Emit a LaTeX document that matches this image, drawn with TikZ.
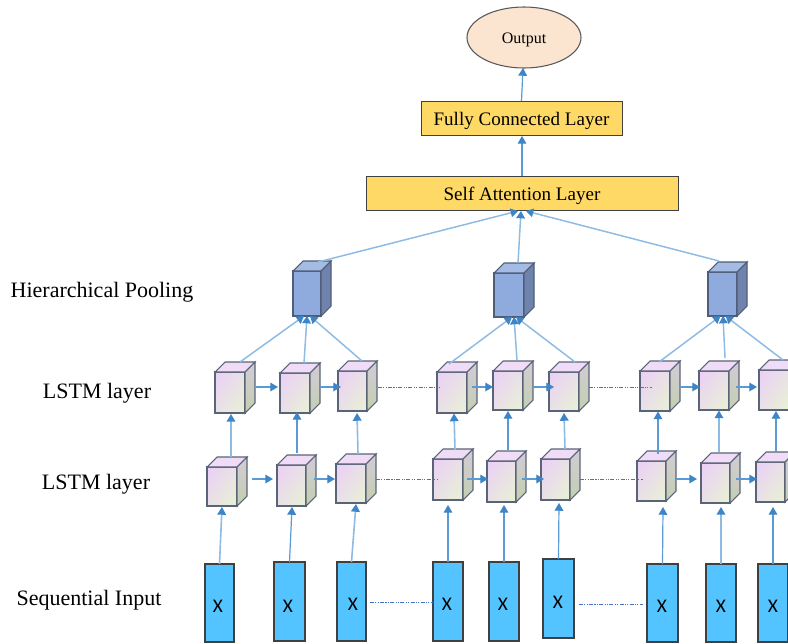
\documentclass[tikz,border=0pt]{standalone}
\usepackage{fontspec}
\setmainfont{Liberation Serif}
\newfontfamily\xfont{Carlito}
\usetikzlibrary{arrows.meta,calc,shapes.geometric,shadings}
\definecolor{lineblue}{HTML}{5B9BD5}
\definecolor{paleblue}{HTML}{8DBBE3}
\definecolor{headblue}{HTML}{3D85C6}
\definecolor{dotblue}{HTML}{4472C4}
\definecolor{edgeslate}{HTML}{5A6478}
\definecolor{poolfront}{HTML}{8FAADC}
\definecolor{pooltop}{HTML}{A6BBE3}
\definecolor{poolside}{HTML}{7083AD}
\definecolor{poolline}{HTML}{4E5D78}
\definecolor{cubeA}{HTML}{EBCFF7}
\definecolor{cubeB}{HTML}{E8F2D3}
\definecolor{cubeM}{HTML}{E9E1E6}
\definecolor{cubetop}{HTML}{F0DCF6}
\definecolor{sideA}{HTML}{D2CCD6}
\definecolor{sideB}{HTML}{C4CEB0}
\definecolor{gold}{HTML}{FFD966}
\definecolor{peach}{HTML}{FBE5D0}
\definecolor{inputblue}{HTML}{53C4FF}
\tikzset{
  arr/.style={draw=lineblue,line width=0.9pt,-{Triangle[length=5.8pt,width=6.5pt,color=headblue]}},
  feed/.style={draw=paleblue,line width=1.2pt,-{Triangle[length=5.8pt,width=6.5pt,color=headblue]}},
  gather/.style={draw=paleblue,line width=1.1pt,-{Triangle[length=5.5pt,width=6.5pt,color=headblue]}},
  dots/.style={draw=dotblue,line width=0.5pt,dash pattern=on 3pt off 1pt on 0.8pt off 1pt on 0.8pt off 1pt},
  frontface/.style={inner sep=0pt,outer sep=0pt,anchor=north west},
  lstmfront/.style={frontface,draw=edgeslate,line width=0.9pt,upper left=cubeA,lower right=cubeB,upper right=cubeM,lower left=cubeM},
  poolfrontface/.style={frontface,draw=poolline,line width=0.9pt,fill=poolfront},
  layerbox/.style={draw=black!75,line width=0.7pt,fill=gold,font=\fontsize{14.3pt}{16pt}\selectfont,inner sep=0pt,outer sep=0pt,anchor=north west,text height=0pt,text depth=0pt},
  inputbox/.style={draw=black!75,line width=0.8pt,fill=inputblue,inner sep=0pt,outer sep=0pt,anchor=north west},
  xlabel/.style={font=\xfont\fontsize{14.5pt}{16pt}\selectfont,inner sep=0pt},
  sidelabel/.style={font=\fontsize{16.5pt}{19pt}\selectfont,inner sep=0pt}
}
% name, left, top, right, bottom
\newcommand{\lstmcube}[5]{%
  \node[lstmfront,minimum width={(#4-#2)*0.75pt},minimum height={(#5-#3)*0.75pt}] (#1) at (#2,#3) {};
  \draw[edgeslate,line width=0.8pt,fill=cubetop] (#1.north west) -- ++(10,-10) -- ++({#4-#2},0) -- (#1.north east) -- cycle;
  \draw[edgeslate,line width=0.8pt,top color=sideA,bottom color=sideB] (#1.north east) -- ++(10,-10) -- ++(0,{#5-#3}) -- (#1.south east) -- cycle;
}
\newcommand{\poolcube}[5]{%
  \node[poolfrontface,minimum width={(#4-#2)*0.75pt},minimum height={(#5-#3)*0.75pt}] (#1) at (#2,#3) {};
  \draw[poolline,line width=0.8pt,fill=pooltop] (#1.north west) -- ++(10,-10) -- ++({#4-#2},0) -- (#1.north east) -- cycle;
  \draw[poolline,line width=0.8pt,fill=poolside] (#1.north east) -- ++(10,-10) -- ++(0,{#5-#3}) -- (#1.south east) -- cycle;
}
% name, left, top, right, bottom, X centre x, X centre y
\newcommand{\inputrect}[7]{%
  \node[inputbox,minimum width={(#4-#2)*0.75pt},minimum height={(#5-#3)*0.75pt}] (#1) at (#2,#3) {};
  \node[xlabel] (#1x) at (#6,#7) {X};
}
\begin{document}
\begin{tikzpicture}[x=0.75pt,y=-0.75pt]
\useasboundingbox (0,0) rectangle (788,643);
\clip (0,0) rectangle (788,643);
\fill[white] (0,0) rectangle (788,643);

% top
\node[ellipse,draw=black!65,line width=0.8pt,fill=peach,minimum width=114*0.75pt,minimum height=61*0.75pt,inner sep=0pt,outer sep=0pt,text height=0pt,text depth=0pt,font=\fontsize{12pt}{14pt}\selectfont] (out) at (524,37.5) {\raisebox{-4.4pt}{Output}};
\node[layerbox,minimum width=201*0.75pt,minimum height=34*0.75pt] (fc) at (421,101) {\raisebox{-5.25pt}{Fully Connected Layer}};
\node[layerbox,minimum width=312*0.75pt,minimum height=34*0.75pt] (sa) at (366,176) {\raisebox{-5.25pt}{Self Attention Layer}};

% side labels
\node[sidelabel] (t1) at (102,292) {Hierarchical Pooling};
\node[sidelabel] (t2) at (97,393) {LSTM layer};
\node[sidelabel] (t3) at (96,484) {LSTM layer};
\node[sidelabel] (t4) at (89,600) {Sequential Input};

% pooling
\poolcube{p1}{293}{271}{321}{316}
\poolcube{p2}{494}{273}{524}{317}
\poolcube{p3}{708}{272}{737}{316}

% upper LSTM
\lstmcube{u1}{215}{372}{245}{413}
\lstmcube{u2}{280}{373}{310}{413}
\lstmcube{u3}{338}{371}{367}{411}
\lstmcube{u4}{437}{372}{467}{413}
\lstmcube{u5}{493}{371}{523}{410}
\lstmcube{u6}{549}{372}{579}{411}
\lstmcube{u7}{640}{371}{670}{411}
\lstmcube{u8}{699}{371}{729}{410}
\lstmcube{u9}{759}{370}{789}{410}

% lower LSTM
\lstmcube{l1}{207}{467}{237}{506}
\lstmcube{l2}{277}{465}{306}{506}
\lstmcube{l3}{336}{464}{366}{503}
\lstmcube{l4}{433}{459}{463}{500}
\lstmcube{l5}{487}{461}{516}{502}
\lstmcube{l6}{541}{459}{570}{500}
\lstmcube{l7}{637}{461}{666}{501}
\lstmcube{l8}{701}{463}{730}{503}
\lstmcube{l9}{756}{462}{785}{502}

% inputs
\inputrect{r1}{205}{564}{234}{642}{218}{606}
\inputrect{r2}{274}{562}{305}{641}{288}{606}
\inputrect{r3}{337}{562}{366}{641}{353}{604}
\inputrect{r4}{433}{562}{463}{641}{447}{604}
\inputrect{r5}{489}{562}{519}{641}{503}{604}
\inputrect{r6}{543}{559}{574}{638}{558}{602}
\inputrect{r7}{647}{564}{678}{642}{662}{606}
\inputrect{r8}{706}{564}{736}{642}{721}{606}
\inputrect{r9}{758}{564}{788}{642}{773}{606}

% top connectors
\draw[arr] (fc.north) -- ($(out.south)+(-1,0)$);
\draw[arr] (sa.north) -- ($(fc.south)+(0.5,1)$);
\draw[gather] ($(p1.north)+(11,-9)$) -- ($(sa.south)+(-4,1)$);
\draw[gather] ($(p2.north)+(9,-10)$) -- ($(sa.south)+(-1,1)$);
\draw[gather] ($(p3.north)+(-3.5,-11)$) -- ($(sa.south)+(4,1)$);

% upper LSTM to pooling
\draw[gather] ($(u1.north)+(10,-10)$) -- ($(p1.south)+(-3,0)$);
\draw[gather] ($(u2.north)+(9,-10)$) -- ($(p1.south)+(0,0)$);
\draw[gather] ($(u3.north)+(9.5,-10)$) -- ($(p1.south)+(3,0)$);
\draw[gather] ($(u4.north)+(-3,-8)$) -- ($(p2.south)+(3,0)$);
\draw[gather] ($(u5.north)+(9,-11)$) -- ($(p2.south)+(5,0)$);
\draw[gather] ($(u6.north)+(11,-10)$) -- ($(p2.south)+(7,0)$);
\draw[gather] ($(u7.north)+(4,-9)$) -- ($(p3.south)+(-2,0)$);
\draw[gather] ($(u8.north)+(11,-13)$) -- ($(p3.south)+(0.5,0)$);
\draw[gather] ($(u9.north)+(9,-10)$) -- ($(p3.south)+(3,0)$);

% lower to upper
\draw[feed] ($(l1.north)+(9,-10)$) -- ($(u1.south)+(1,1)$);
\draw[arr]  ($(l2.north)+(5.5,-12)$) -- ($(u2.south)+(2,-1)$);
\draw[feed] ($(l3.north)+(7,-10)$) -- ($(u3.south)+(4.5,2)$);
\draw[feed] ($(l4.north)+(7,-9)$) -- ($(u4.south)+(2,0.5)$);
\draw[arr]  ($(l5.north)+(6.5,-11)$) -- ($(u5.south)+(0,1)$);
\draw[feed] ($(l6.north)+(9.5,-10)$) -- ($(u6.south)+(0,2)$);
\draw[arr]  ($(l7.north)+(6.5,-7)$) -- ($(u7.south)+(3,0.5)$);
\draw[feed] ($(l8.north)+(3.5,-11)$) -- ($(u8.south)+(5,0.5)$);
\draw[arr]  ($(l9.north)+(5.5,-10)$) -- ($(u9.south)+(2,1)$);

% inputs to lower
\draw[feed] (r1.north) -- ($(l1.south)+(0,1)$);
\draw[arr]  (r2.north) -- ($(l2.south)+(0.5,1)$);
\draw[feed] (r3.north) -- ($(l3.south)+(5,1)$);
\draw[arr]  (r4.north) -- ($(l4.south)+(0,5)$);
\draw[arr]  (r5.north) -- ($(l5.south)+(2.5,3)$);
\draw[arr]  (r6.north) -- ($(l6.south)+(3.5,3)$);
\draw[arr]  (r7.north) -- ($(l7.south)+(11.5,6)$);
\draw[feed] (r8.north) -- ($(l8.south)+(5.5,4)$);
\draw[arr]  (r9.north) -- ($(l9.south)+(2.5,5)$);

% upper row horizontals
\draw[arr] ($(u1.east)+(11,-5.5)$) -- ($(u2.west)+(-2,-6)$);
\draw[arr] ($(u2.east)+(10,-6)$) -- ($(u3.west)+(3,-4)$);
\draw[dots] ($(u3.east)+(11,-4)$) -- ($(u4.west)+(3,-5.5)$);
\draw[arr] ($(u4.east)+(5,-5.5)$) -- ($(u5.west)+(0,-3.5)$);
\draw[arr] ($(u5.east)+(10,-3.5)$) -- ($(u6.west)+(5,-4.5)$);
\draw[dots] ($(u6.east)+(10,-4.5)$) -- ($(u7.west)+(12,-4)$);
\draw[arr] ($(u7.east)+(9,-4)$) -- ($(u8.west)+(1,-3.5)$);
\draw[arr] ($(u8.east)+(7,-3.5)$) -- ($(u9.west)+(-2,-3)$);

% lower row horizontals
\draw[arr] ($(l1.east)+(15,-7.5)$) -- ($(l2.west)+(-4,-6.5)$);
\draw[arr] ($(l2.east)+(8,-6.5)$) -- ($(l3.west)+(-1,-4.5)$);
\draw[dots] ($(l3.east)+(10,-4.5)$) -- ($(l4.west)+(5,-0.5)$);
\draw[arr] ($(l4.east)+(4,-0.5)$) -- ($(l5.west)+(1,-2.5)$);
\draw[arr] ($(l5.east)+(6,-2.5)$) -- ($(l6.west)+(3,-0.5)$);
\draw[dots] ($(l6.east)+(10,-0.5)$) -- ($(l7.west)+(6,-2)$);
\draw[arr] ($(l7.east)+(10,-2)$) -- ($(l8.west)+(-4,-4)$);
\draw[arr] ($(l8.east)+(6,-4)$) -- ($(l9.west)+(1,-3)$);

% input row
\draw[dots] ($(r3.east)+(4,0.5)$) -- ($(r4.west)+(0,0.5)$);
\draw[dots] ($(r6.east)+(5,5.5)$) -- ($(r7.west)+(-4,1)$);
\end{tikzpicture}
\end{document}
